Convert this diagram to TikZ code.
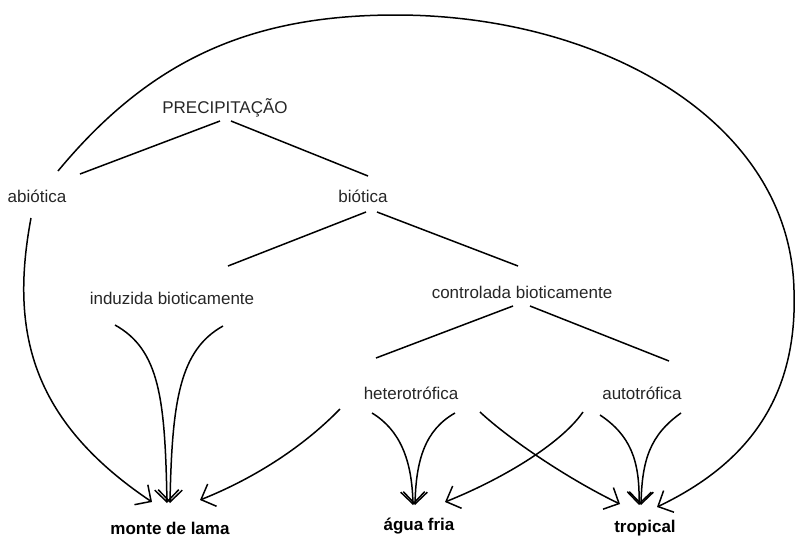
\documentclass[tikz,border=0pt]{standalone}
\usepackage{fontspec}
\setmainfont{Liberation Sans}
\usetikzlibrary{arrows.meta, calc}

\begin{document}
\begin{tikzpicture}[x=1pt, y=-1pt,
    rotulo/.style={inner sep=0pt, text=black!85, font=\fontsize{17}{20}\selectfont},
    destino/.style={inner sep=0pt, font=\fontsize{17}{20}\selectfont\bfseries},
    ramo/.style={line width=1.5pt},
    seta/.style={line width=1.5pt, -{Straight Barb[length=12pt, width=24pt, line width=1.5pt]}}]
    \useasboundingbox (0,0) rectangle (796,539);
    % Classificacao
    \node[rotulo] (prec) at (225,108) {PRECIPITAÇÃO};
    \node[rotulo] (abio) at (37,196) {abiótica};
    \node[rotulo] (bio)  at (363,196) {biótica};
    \node[rotulo] (ind)  at (172,298) {induzida bioticamente};
    \node[rotulo] (ctrl) at (522,292) {controlada bioticamente};
    \node[rotulo] (het)  at (411,393) {heterotrófica};
    \node[rotulo] (aut)  at (642,393) {autotrófica};
    % Ambientes
    \node[destino] (lama) at (170,528) {monte de lama};
    \node[destino] (fria) at (419,526) {água fria};
    \node[destino] (trop) at (645,528) {tropical};
    % Ramos da arvore
    \draw[ramo] ($(prec)+(-5,13)$) -- ($(abio)+(43,-22)$);
    \draw[ramo] ($(prec)+(6,13)$)  -- ($(bio)+(5,-20)$);
    \draw[ramo] ($(bio)+(3,16)$)   -- ($(ind)+(56,-32)$);
    \draw[ramo] ($(bio)+(14,16)$)  -- ($(ctrl)+(-4,-26)$);
    \draw[ramo] ($(ctrl)+(-9,14)$) -- ($(het)+(-35,-35)$);
    \draw[ramo] ($(ctrl)+(8,14)$)  -- ($(aut)+(27,-32)$);
    % Arco grande: abiotica -> tropical
    \draw[seta] ($(abio)+(21,-25)$) .. controls (150,60) and (250,15) .. (396,15)
        .. controls (600,15) and (790,120) .. (794,290)
        .. controls (798,400) and (745,465) .. ($(trop)+(12,-21)$);
    % Setas para monte de lama
    \draw[seta] ($(abio)+(-6,22)$) .. controls (10,330) and (30,420) .. ($(lama)+(-18,-26)$);
    \draw[seta] ($(ind)+(-57,27)$) .. controls (160,350) and (165,400) .. ($(lama)+(-3,-25)$);
    \draw[seta] ($(ind)+(51,28)$)  .. controls (180,350) and (172,400) .. ($(lama)+(0,-25)$);
    \draw[seta] ($(het)+(-71,16)$) .. controls (300,450) and (250,480) .. ($(lama)+(30,-28)$);
    % Setas para agua fria
    \draw[seta] ($(het)+(-39,20)$) .. controls (400,430) and (412,460) .. ($(fria)+(-6,-21)$);
    \draw[seta] ($(het)+(44,20)$)  .. controls (425,430) and (416,460) .. ($(fria)+(-4,-21)$);
    \draw[seta] ($(aut)+(-59,19)$) .. controls (560,445) and (500,480) .. ($(fria)+(26,-24)$);
    % Setas para tropical
    \draw[seta] ($(het)+(69,19)$)  .. controls (510,440) and (570,480) .. ($(trop)+(-25,-24)$);
    \draw[seta] ($(aut)+(-42,22)$) .. controls (630,435) and (640,460) .. ($(trop)+(-6,-23)$);
    \draw[seta] ($(aut)+(39,20)$)  .. controls (650,435) and (642,460) .. ($(trop)+(-4,-23)$);
\end{tikzpicture}
\end{document}
